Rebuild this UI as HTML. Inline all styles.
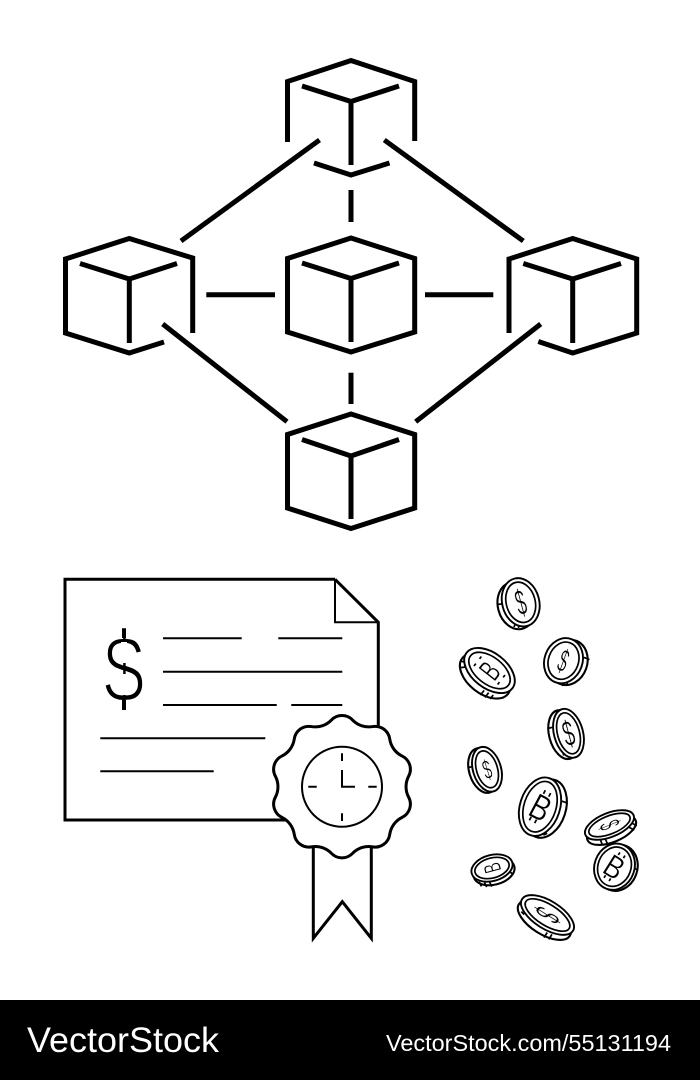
<!DOCTYPE html>
<html lang="en">
<head>
<meta charset="utf-8">
<title>Blockchain network, certificate and coins</title>
<style>
html,body{margin:0;padding:0;background:#fff;width:700px;height:1080px;overflow:hidden}
svg{display:block}
.t{font-family:"Liberation Sans",sans-serif}
.c{fill:none;stroke:#000;stroke-width:5;stroke-linejoin:miter;stroke-linecap:butt}
.d{fill:none;stroke:#000;stroke-width:2}
.sym{font-family:"Liberation Sans",sans-serif;text-anchor:middle;fill:#000;stroke:#fff;stroke-width:.5}
.e{fill:#fff;stroke:#000;stroke-width:2.100}
.f{fill:#fff;stroke:#000;stroke-width:1.900}
.k{fill:none;stroke:#000;stroke-width:1.700}
</style>
</head>
<body>
<svg width="700" height="1080" viewBox="0 0 700 1080" xmlns="http://www.w3.org/2000/svg">
<rect width="700" height="1080" fill="#fff"/>

<!-- Cubes and connectors -->
<g class="c">
<path d="M287.5 142V81.5L351 60.5L414.7 81.5V141"/>
<path d="M302 86L351 101.5L399 86"/>
<path d="M351 101.5V165"/>
<path d="M314 163L351 175L389.5 163"/>
<path d="M351 190V222"/>
<path d="M351 238L414.7 258.500V332L351 352L287.500 332V258.500Z"/>
<path d="M302 263L351 278.500L399 263"/>
<path d="M351 278.500V342"/>
<path d="M192.700 333V258L129.300 238.500L65.500 259V333L129.300 353L164 342"/>
<path d="M80 263.500L129.300 279L177 263.500"/>
<path d="M129.300 279V343"/>
<path d="M509 333V259L572.700 238.500L636.700 259V333L572.700 353L538.300 341.500"/>
<path d="M523.300 263.500L572.700 279L621 263.500"/>
<path d="M572.700 279V343"/>
<path d="M351 414L414.700 434.500V508L351 528.500L287.500 508V434.500Z"/>
<path d="M302 439.500L351 456L399 439.500"/>
<path d="M351 456V519"/>
<path d="M319.500 140L181 241"/>
<path d="M384.300 140L523.300 241"/>
<path d="M206.300 294.700H275"/>
<path d="M425 294.700H493.300"/>
<path d="M162.700 324L287 421.700"/>
<path d="M540.700 324L415.700 421.700"/>
<path d="M351 372.700V404"/>
</g>

<!-- Certificate -->
<path d="M335 579.300H65V820H290M378.300 730V622.300L335 579.300" fill="none" stroke="#000" stroke-width="3"/>
<path d="M335 579.300V622.300H378.300" fill="none" stroke="#000" stroke-width="2"/>
<g class="d">
<path d="M163 638.300H241.700M278.300 638.300H342.300"/>
<path d="M163 671.700H342.300"/>
<path d="M163 705H276.700M291.300 705H342.300"/>
<path d="M100.300 738.300H265.300"/>
<path d="M100.300 771.300H213.700"/>
</g>
<text class="t" transform="translate(124,702) scale(.76,1)" font-size="96" text-anchor="middle" fill="#000" stroke="#fff" stroke-width="2.500">$</text>
<rect x="121" y="642" width="6" height="21" fill="#fff"/>
<rect x="121" y="674" width="6" height="21" fill="#fff"/>
<path d="M124 628.300V638M124 699V710" stroke="#000" stroke-width="4" fill="none"/>

<!-- Ribbon -->
<path d="M313.300 845V938.300L342.300 901.700L371.300 938.300V845" fill="#fff" stroke="#000" stroke-width="3"/>

<!-- Seal -->
<g transform="translate(342,786.700)">
<path fill="#fff" stroke="#000" stroke-width="3" d="M-10.560 -66.670A14.700 14.700 0 0 1 10.560 -66.670A22.500 22.500 0 0 0 30.650 -60.140A14.700 14.700 0 0 1 47.730 -47.730A22.500 22.500 0 0 0 60.140 -30.650A14.700 14.700 0 0 1 66.670 -10.560A22.500 22.500 0 0 0 66.670 10.560A14.700 14.700 0 0 1 60.140 30.650A22.500 22.500 0 0 0 47.730 47.730A14.700 14.700 0 0 1 30.650 60.140A22.500 22.500 0 0 0 10.560 66.670A14.700 14.700 0 0 1 -10.560 66.670A22.500 22.500 0 0 0 -30.650 60.140A14.700 14.700 0 0 1 -47.730 47.730A22.500 22.500 0 0 0 -60.140 30.650A14.700 14.700 0 0 1 -66.670 10.560A22.500 22.500 0 0 0 -66.670 -10.560A14.700 14.700 0 0 1 -60.140 -30.650A22.500 22.500 0 0 0 -47.730 -47.730A14.700 14.700 0 0 1 -30.650 -60.140A22.500 22.500 0 0 0 -10.560 -66.670Z"/>
<circle r="40" fill="#fff" stroke="#000" stroke-width="2"/>
<path fill="none" stroke="#000" stroke-width="2" d="M0 -33.500V-25.700M0 26.600V34.300M-33.700 0H-25.300M26.300 0H34.700M0 -16.700V0H13"/>
</g>

<!-- Coins -->
<g transform="translate(520.700,602.300) rotate(-15)">
<ellipse class="e" cx="-5" cy="2" rx="18.500" ry="24"/>
<path class="k" d="M-23 -4L-17 -3M-13 22L-9 18M-9 24L-5 20"/>
<ellipse class="f" rx="18.500" ry="24.500"/><ellipse class="k" rx="14.500" ry="20.500"/>
<text class="sym" transform="translate(0,12.500) scale(.5,1)" font-size="36">$</text>
</g>
<g transform="translate(489.500,670.500) rotate(38)">
<ellipse class="e" cx="0" cy="7" rx="29" ry="17.500"/>
<path class="k" d="M-28 10L-23 8M-25 16L-21 12M8 25L8 19M13 24L13 18M18 22L18 17"/>
<ellipse class="f" rx="29" ry="17.500"/><ellipse class="k" rx="24" ry="13.500"/>
<text class="sym" transform="rotate(-90) translate(0,11) scale(.62,1)" font-size="31">B</text>
<path class="k" d="M-15 -6V-3M-15 3V6M15 -6V-3M15 3V6"/>
</g>
<g transform="translate(563.500,660.700) rotate(20)">
<ellipse class="e" cx="5" cy="0" rx="19" ry="23"/>
<path class="k" d="M18 -10L24 -10M10 19L13 22M6 21L8 24"/>
<ellipse class="f" rx="19" ry="23"/><ellipse class="k" rx="15" ry="19"/>
<text class="sym" transform="translate(0,11) scale(.5,1)" font-size="32">$</text>
</g>
<g transform="translate(568.500,733.300) rotate(-15)">
<ellipse class="e" cx="-5" cy="0" rx="14.500" ry="25"/>
<path class="k" d="M-19 -10L-14 -10M-8 22L-5 19M-11 20L-8 17"/>
<ellipse class="f" rx="14.500" ry="25"/><ellipse class="k" rx="11" ry="21"/>
<text class="sym" transform="translate(0,12.500) scale(.55,1)" font-size="36">$</text>
</g>
<g transform="translate(487,769.300) rotate(-17)">
<ellipse class="e" cx="-4" cy="0" rx="14" ry="23"/>
<path class="k" d="M-17 -7L-13 -7M-7 20L-5 17M-10 18L-8 15"/>
<ellipse class="f" rx="14" ry="23"/><ellipse class="k" rx="10.500" ry="19"/>
<text class="sym" transform="translate(0,9.500) scale(.55,1)" font-size="27">$</text>
</g>
<g transform="translate(540,806.700) rotate(18)">
<ellipse class="e" cx="6" cy="0" rx="20" ry="30"/>
<path class="k" d="M18 -12L25 -12M12 26L15 23M7 28L10 25"/>
<ellipse class="f" rx="20" ry="30"/><ellipse class="k" rx="16" ry="26"/>
<g transform="rotate(10)">
<text class="sym" transform="translate(1,13) scale(.8,1)" font-size="36">B</text>
<path class="k" d="M-3 -13V-17M3 -13V-17M-3 13V17M3 13V17"/>
</g>
</g>
<g transform="translate(609.500,825) rotate(-22)">
<ellipse class="e" cx="0" cy="5.500" rx="26" ry="12"/>
<path class="k" d="M-14 10L-14 16M-9 12L-9 18M17 9L21 14M21 6L25 11"/>
<ellipse class="f" rx="26" ry="12"/><ellipse class="k" rx="22" ry="9"/>
<text class="sym" transform="rotate(90) translate(0,10) scale(.42,1)" font-size="30">$</text>
</g>
<g transform="translate(614.500,866.700) rotate(20)">
<ellipse class="e" cx="3" cy="0" rx="20" ry="23.500"/>
<path class="k" d="M18 -5L23 -5M5 20L7 23M1 21L3 24"/>
<ellipse class="f" rx="20" ry="23.500"/><ellipse class="k" rx="16.500" ry="20"/>
<g transform="rotate(12)">
<text class="sym" transform="translate(0,11.500) scale(.85,1)" font-size="32">B</text>
<path class="k" d="M-3 -12V-15M3 -12V-15M-3 12V15M3 12V15"/>
</g>
</g>
<g transform="translate(492,868) rotate(-15)">
<ellipse class="e" cx="1" cy="4" rx="21" ry="13"/>
<path class="k" d="M-16 10L-15 15M-11 12L-10 17M-6 13L-5 18M16 8L19 12"/>
<ellipse class="f" rx="21" ry="13"/><ellipse class="k" rx="17.500" ry="10"/>
<text class="sym" transform="rotate(-90) translate(0,8.500) scale(.6,1)" font-size="24">B</text>
</g>
<g transform="translate(547.500,915) rotate(32)">
<ellipse class="e" cx="0" cy="6" rx="30" ry="14"/>
<path class="k" d="M-27 6L-22 8M-24 11L-20 12M9 15L9 21M14 14L14 20"/>
<ellipse class="f" rx="30" ry="14"/><ellipse class="k" rx="25.500" ry="10.500"/>
<text class="sym" transform="rotate(90) translate(0,13) scale(.42,1)" font-size="38">$</text>
</g>

<!-- Footer -->
<rect x="0" y="1000" width="700" height="80" fill="#000"/>
<text class="t" x="27" y="1052" font-size="35" fill="#fff" textLength="192" lengthAdjust="spacingAndGlyphs">VectorStock</text>
<text class="t" x="386" y="1051" font-size="23" fill="#fff" textLength="285" lengthAdjust="spacingAndGlyphs">VectorStock.com/55131194</text>
</svg>
</body>
</html>
